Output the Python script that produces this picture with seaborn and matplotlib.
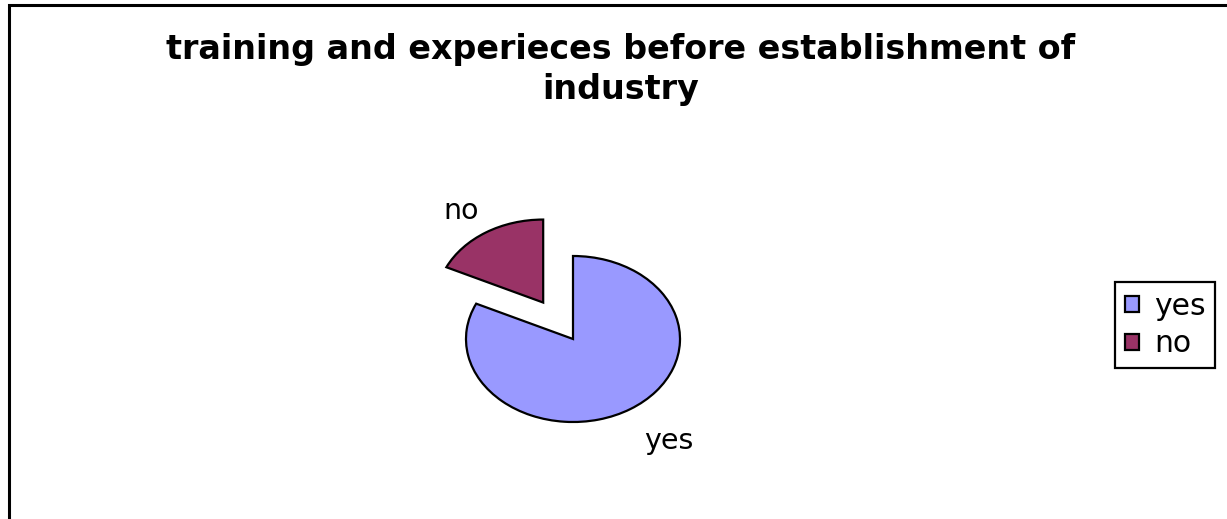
import matplotlib
matplotlib.use("Agg")
import matplotlib.pyplot as plt
from matplotlib.patches import Rectangle
import numpy as np
import seaborn as sns

# Survey answers
categories = ["yes", "no"]
shares = [82, 18]
slice_colors = ["#9999FF", "#993366"]
title_text = "training and experieces before establishment of\nindustry"

sns.set_theme(style="white")
plt.rcParams["font.family"] = ["DejaVu Sans"]
plt.rcParams["text.color"] = "black"

W, H = 1227, 519
fig = plt.figure(figsize=(W / 100, H / 100), dpi=100)
fig.patch.set_facecolor("white")

# Axes over the whole canvas; one data unit = 107 px across, 83 px down,
# which gives the flattened pie centred at (573, 339) px.
ax = fig.add_axes([0, 0, 1, 1])
cx, cy = 573, H - 339
rx, ry = 107, 83

wedges, _ = ax.pie(
    shares,
    colors=slice_colors,
    startangle=90,
    counterclock=False,
    explode=[0, 0.52],
    wedgeprops=dict(edgecolor="black", linewidth=1.6),
)
ax.set_aspect("auto")
ax.set_xlim(-cx / rx, (W - cx) / rx)
ax.set_ylim(-cy / ry, (H - cy) / ry)
ax.axis("off")

# Category labels outside each slice
label_dist = [1.52, 1.34]
label_shift = [3.5, 2.4]  # degrees, nudging each label along its arc
for w, name, d, s in zip(wedges, categories, label_dist, label_shift):
    mid = np.deg2rad((w.theta1 + w.theta2) / 2 + s)
    x0, y0 = w.center
    ax.text(x0 + d * np.cos(mid), y0 + d * np.sin(mid), name,
            ha="center", va="center", fontsize=20.5, color="black")

# Title
fig.text(621 / W, 1 - 33 / H, title_text, ha="center", va="top",
         fontsize=24, fontweight="bold", color="black", linespacing=1.25)

# Legend
leg = ax.legend(
    wedges, categories,
    loc="center left",
    bbox_to_anchor=(1115 / W, 1 - 325 / H),
    bbox_transform=fig.transFigure,
    fontsize=21.5,
    frameon=True,
    framealpha=1.0,
    fancybox=False,
    shadow=False,
    borderaxespad=0,
    handlelength=0.47,
    handleheight=0.42,
    handletextpad=0.5,
    labelspacing=0.3,
    borderpad=0.33,
)
for t in leg.get_texts():
    t.set_color("black")
leg.get_frame().set_edgecolor("black")
leg.get_frame().set_linewidth(1.6)

# Chart-area border
fig.add_artist(Rectangle((8.5 / W, -0.1), 1.2, 1.1 - 5.5 / H,
                         transform=fig.transFigure, fill=False,
                         edgecolor="black", linewidth=2.2))

fig.savefig("out.png", dpi=100, facecolor="white")
